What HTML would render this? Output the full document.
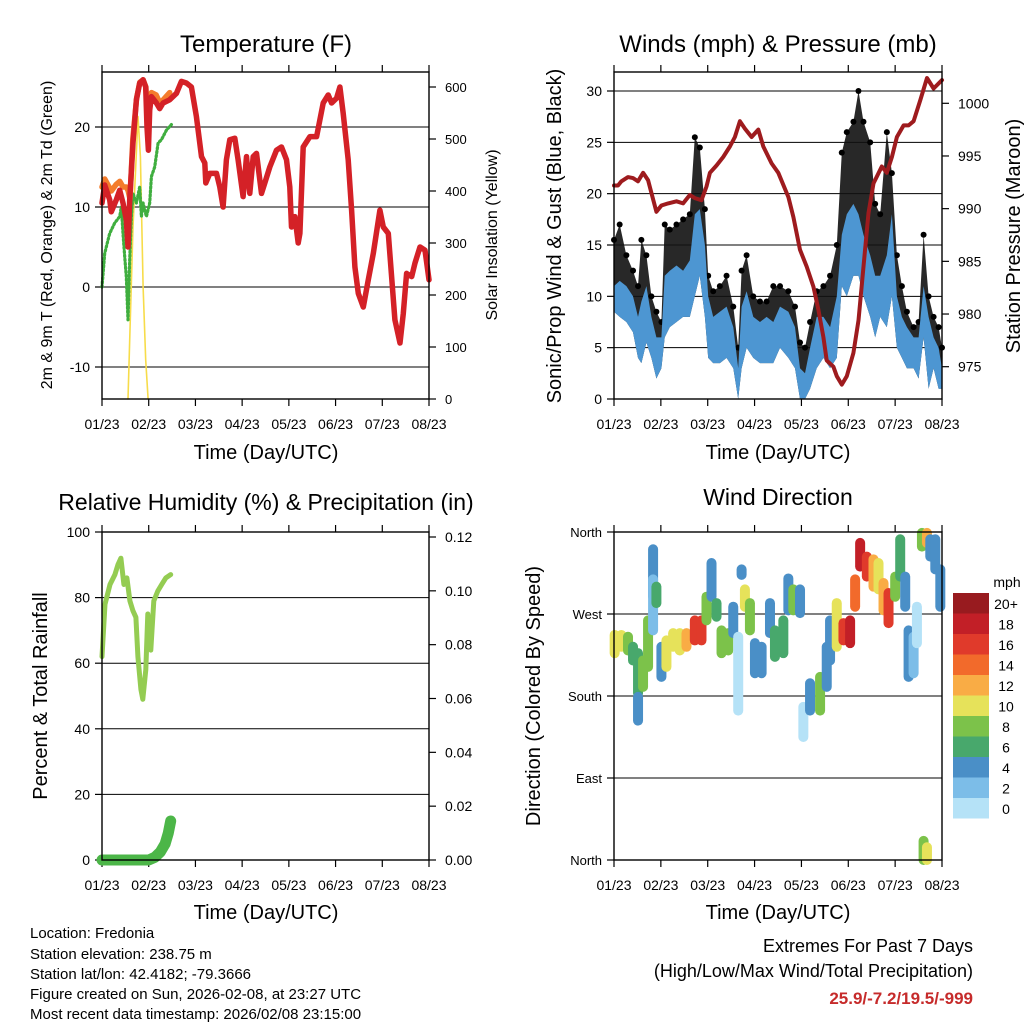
<!DOCTYPE html>
<html><head><meta charset="utf-8"><style>
html,body{margin:0;padding:0;background:#fff;}
svg{display:block;font-family:"Liberation Sans",Arial,sans-serif;}
</style></head><body>
<svg id="c" width="1024" height="1024" viewBox="0 0 1024 1024" xmlns="http://www.w3.org/2000/svg">
<rect width="1024" height="1024" fill="#fff"/>
<text x="266" y="52" font-size="24" text-anchor="middle">Temperature (F)</text>
<text x="778" y="52" font-size="24" text-anchor="middle">Winds (mph) &amp; Pressure (mb)</text>
<text x="266" y="510" font-size="23" text-anchor="middle">Relative Humidity (%) &amp; Precipitation (in)</text>
<text x="778" y="505" font-size="23" text-anchor="middle">Wind Direction</text>
<text x="266" y="459" font-size="20" text-anchor="middle">Time (Day/UTC)</text>
<text x="778" y="459" font-size="20" text-anchor="middle">Time (Day/UTC)</text>
<text x="266" y="919" font-size="20" text-anchor="middle">Time (Day/UTC)</text>
<text x="778" y="919" font-size="20" text-anchor="middle">Time (Day/UTC)</text>
<text transform="translate(52,235) rotate(-90)" font-size="16" text-anchor="middle">2m &amp; 9m T (Red, Orange) &amp; 2m Td (Green)</text>
<text transform="translate(497,235) rotate(-90)" font-size="16" text-anchor="middle">Solar Insolation (Yellow)</text>
<text transform="translate(561,236) rotate(-90)" font-size="20" text-anchor="middle">Sonic/Prop Wind &amp; Gust (Blue, Black)</text>
<text transform="translate(1020,236) rotate(-90)" font-size="20" text-anchor="middle">Station Pressure (Maroon)</text>
<text transform="translate(47,696) rotate(-90)" font-size="20" text-anchor="middle">Percent &amp; Total Rainfall</text>
<text transform="translate(540,696) rotate(-90)" font-size="20" text-anchor="middle">Direction (Colored By Speed)</text>
<g font-size="15">
<text x="30" y="938">Location: Fredonia</text>
<text x="30" y="959">Station elevation: 238.75 m</text>
<text x="30" y="979">Station lat/lon: 42.4182; -79.3666</text>
<text x="30" y="999">Figure created on Sun, 2026-02-08, at 23:27 UTC</text>
<text x="30" y="1019">Most recent data timestamp: 2026/02/08 23:15:00</text>
</g>
<g text-anchor="end">
<text x="973" y="952" font-size="18">Extremes For Past 7 Days</text>
<text x="973" y="977" font-size="18">(High/Low/Max Wind/Total Precipitation)</text>
<text x="973" y="1004" font-size="17" font-weight="bold" fill="#c62b2b">25.9/-7.2/19.5/-999</text>
</g>
</svg>
<script>
// ---------- data ----------
const dayLabels = ["01/23","02/23","03/23","04/23","05/23","06/23","07/23","08/23"];
const tempTimes = [0,.057,.164,.2,.307,.379,.45,.521,.557,.593,.664,.736,.807,.879,.936,.964,.993,1.021,1.057,1.164,1.236,1.307,1.45,1.593,1.7,1.807,1.914,2.021,2.129,2.2,2.221,2.307,2.45,2.521,2.593,2.664,2.736,2.843,2.914,3.021,3.093,3.164,3.236,3.307,3.414,3.486,3.593,3.736,3.843,3.95,4.021,4.057,4.129,4.2,4.236,4.307,4.45,4.593,4.664,4.736,4.843,4.914,5.021,5.093,5.164,5.271,5.343,5.414,5.486,5.593,5.7,5.807,5.95,6.021,6.129,6.2,6.271,6.379,6.45,6.521,6.629,6.7,6.807,6.914,7.0];
const tempRed = [10.5,12.75,10.9,9.4,10.9,12.1,10.5,8.4,5.0,10.9,18.0,23.4,25.5,25.9,25.0,20.0,17.1,22.1,23.8,23.0,22.3,23.0,23.4,24.2,25.7,25.5,25.0,21.3,16.3,15.5,13.0,14.2,14.2,12.5,10.0,15.9,18.4,18.6,15.9,11.3,16.3,11.7,16.3,16.7,11.7,13.0,15.0,17.1,17.5,15.9,12.5,7.5,8.8,5.5,6.7,17.5,18.8,18.8,20.9,23.0,24.0,23.0,23.6,25.0,21.7,15.9,9.6,2.5,-0.8,-2.5,0.9,4.2,9.6,7.5,6.7,1.3,-4.1,-7.0,-3.3,1.7,1.3,3.0,5.0,4.6,0.9];
const orangeTimes = [0,.06,.2,.3,.38,.45,.52,.56,.6,.66,.74,.81,.88,.94,.97,1.02,1.06,1.16,1.24,1.31,1.45];
const tempOrange = [12.5,13.5,12.0,12.8,13.2,12.5,12.5,12,11,18.5,23.6,25.6,25.9,25,21,22.5,24.3,24,23,23.4,24.3];
const dewTimes = [0,.057,.164,.271,.379,.414,.45,.486,.521,.557,.593,.629,.664,.736,.807,.843,.879,.95,1.021,1.057,1.129,1.2,1.271,1.379,1.486];
const dewValues = [0,4.2,6.7,8.0,8.8,10.0,6.7,3.8,1.3,-4.1,3.4,8.8,11.7,10.5,12.5,8.8,10.5,8.8,10.5,13.8,15.0,18.0,18.4,19.6,20.3];
const solarTimes = [.557,.593,.664,.771,.821,.879,.936,.986];
const solarValues = [0,113,331,543,466,216,75,0];
const tempTicks = [-10,0,10,20];
const solarTicks = [0,100,200,300,400,500,600];

const presTimes = [0,.086,.157,.299,.406,.513,.62,.727,.798,.905,1.012,1.155,1.333,1.475,1.618,1.725,1.867,1.974,2.046,2.188,2.331,2.473,2.58,2.687,2.794,2.937,3.079,3.186,3.364,3.507,3.721,3.828,3.97,4.113,4.255,4.362,4.469,4.54,4.683,4.754,4.861,4.968,5.11,5.217,5.324,5.431,5.538,5.716,5.823,5.93,6.037,6.18,6.287,6.394,6.536,6.679,6.821,7.0];
const presValues = [992.2,992.2,992.6,993.0,992.9,992.6,993.4,992.7,991.5,989.7,990.3,990.5,990.7,990.5,991.3,991.0,990.8,992.1,993.4,994.1,994.9,995.9,996.8,998.3,997.6,996.8,997.5,995.9,994.3,993.4,991.1,989.2,986.1,984.5,982.6,980.4,977.8,975.6,975.0,974.1,973.3,974.1,976.3,979.4,984.5,989.6,992.4,994.0,993.4,994.9,996.8,997.9,997.9,998.3,1000.3,1002.4,1001.4,1002.2];
const windTimes = [0,.121,.264,.406,.513,.584,.691,.798,.905,1.012,1.083,1.19,1.333,1.475,1.618,1.725,1.832,1.939,2.01,2.117,2.259,2.402,2.545,2.651,2.723,2.83,2.972,3.115,3.257,3.4,3.543,3.721,3.863,3.97,4.077,4.184,4.326,4.469,4.611,4.754,4.861,4.968,5.11,5.217,5.324,5.467,5.574,5.681,5.823,5.93,6.037,6.144,6.251,6.394,6.5,6.607,6.714,6.821,6.928,7.0];
const windLow = [8.5,8,7.5,6.5,4,3.5,5.5,4,2,3,6,7,7.5,8,8,10,12,8,4,3.5,3.5,4,3,0,3,5,4,3.5,3.5,3.5,5,4,3,0,0,1,3,4,3,4,11,10,12,12,10,8,6,8,7,10,5,4,3,3,2,6,1,3,1,1];
const windHigh = [11,11.5,11,10,8,9.5,11,8,6,6,12,12.5,13,12.5,13.5,18,18.5,15,10,8,8.5,9,7,3,9,10.5,8,7.5,8,7.5,9,8.5,7,3,2.5,5,8,8,7,10,16,18,19,18,16,14,12,12,14,18,10,8,7,6,6,11,8,6,5,3];
const gustHigh = [15.5,17,14,12.5,11,15.5,14,10,8.5,7.5,17,16.5,17,17.5,18,25.5,24.5,18.5,12,10.5,11,12,9,5,12.5,14,10,9.5,9.5,11,11,10.5,9,5.5,5,7.5,10.5,11,12,15,24,26,27,30,27,25,19,18,26,22,14,11,8.5,7,7.5,16,10,8,7,5];
const windTicks = [0,5,10,15,20,25,30];
const presTicks = [975,980,985,990,995,1000];

const rhTimes = [0,.064,.171,.277,.341,.405,.469,.533,.597,.661,.725,.768,.832,.874,.938,.981,1.045,1.109,1.194,1.279,1.365,1.471];
const rhValues = [62,78,84,87,90,92,84,86,79,76,74,62,52,49,58,75,64,79,82,84,86,87];
const precipTimes = [0,0.5,1.0,1.13,1.25,1.35,1.42,1.47];
const precipValues = [0,0,0,0.001,0.003,0.006,0.01,0.0145];
const rhTicks = [0,20,40,60,80,100];
const precipTicks = ["0.00","0.02","0.04","0.06","0.08","0.10","0.12"];

const dirTimes = [.014,.157,.299,.406,.513,.513,.62,.727,.834,.834,.905,1.012,1.119,1.262,1.404,1.547,1.725,1.867,1.974,2.081,2.188,2.295,2.438,2.545,2.651,2.723,2.794,2.901,3.008,3.15,3.329,3.435,3.614,3.721,3.827,3.97,4.041,4.184,4.398,4.54,4.611,4.754,4.897,5.039,5.146,5.253,5.396,5.538,5.645,5.752,5.859,6.001,6.108,6.215,6.287,6.394,6.465,6.572,6.679,6.75,6.857,6.964,6.607,6.679];
const dirHigh = [247,247,245,234,227,179,219,263,341,308,300,234,241,249,249,249,263,263,289,326,282,252,249,278,245,319,297,282,238,234,282,252,263,309,297,297,168,194,201,234,263,282,260,263,308,348,333,330,326,304,293,311,352,311,252,245,278,359,359,352,352,319,21,14];
const dirLow = [227,234,230,219,183,153,190,212,289,252,282,201,212,234,230,234,241,241,263,289,267,227,230,249,164,313,278,252,205,205,249,223,227,274,274,271,135,164,164,190,219,234,241,238,278,322,311,300,297,274,260,289,311,278,201,205,238,344,348,333,319,278,0,0];
const dirSpeed = [10,10,9,7,6,4,8,8,4,3,6,4,10,10,11,12,17,17,8,4,6,8,8,5,1,4,10,8,4,5,4,6,6,4,8,4,1,4,8,4,4,10,17,18,14,18,17,12,10,12,17,8,6,4,4,3,1,8,12,4,4,4,8,10];
const dirTickLabels = ["North","East","South","West","North"];
const speedBinLabels = ["0","2","4","6","8","10","12","14","16","18","20+"];
const speedColors = ["#b5e2f7","#7cbde8","#4a8fc7","#48a86c","#7cc24a","#e6e25a","#f9ac45","#f26a2b","#e03a2b","#c21f27","#981b1f"];

// ---------- helpers ----------
const NS = "http://www.w3.org/2000/svg";
const svg = document.getElementById("c");
function el(tag, parent) { const e = document.createElementNS(NS, tag); (parent || svg).appendChild(e); return e; }
function axisX(p) { return t => p.x0 + t * (p.x1 - p.x0) / 7; }
function lin(d0, d1, r0, r1) { return v => r0 + (v - d0) * (r1 - r0) / (d1 - d0); }

const P1 = {x0:102, x1:429, y0:72, y1:399};
const P2 = {x0:614, x1:942, y0:72, y1:399};
const P3 = {x0:102, x1:429, y0:532, y1:860};
const P4 = {x0:614, x1:942, y0:532, y1:860};

function frame(p, name) {
  const g = el("g");
  
  
  const xs = axisX(p);
  for (let i = 0; i < 8; i++) {
    const x = xs(i);
    const t1 = el("line", g); t1.setAttribute("x1", x); t1.setAttribute("x2", x); t1.setAttribute("y1", p.y1); t1.setAttribute("y2", p.y1 + 7); t1.setAttribute("stroke", "#000"); t1.setAttribute("stroke-width", "1.2");
    const t2 = el("line", g); t2.setAttribute("x1", x); t2.setAttribute("x2", x); t2.setAttribute("y1", p.y0); t2.setAttribute("y2", p.y0 - 7); t2.setAttribute("stroke", "#000"); t2.setAttribute("stroke-width", "1.2");
    const lb = el("text", g);
    
    
    lb.setAttribute("x", x); lb.setAttribute("y", p.y1 + 30); lb.setAttribute("font-size", "14"); lb.setAttribute("text-anchor", "middle");
    lb.textContent = dayLabels[i];
  }
  return g;
}
function box(p, name) {
  const r = el("rect");
  
  
  r.setAttribute("x", p.x0); r.setAttribute("y", p.y0); r.setAttribute("width", p.x1 - p.x0); r.setAttribute("height", p.y1 - p.y0);
  r.setAttribute("fill", "none"); r.setAttribute("stroke", "#000"); r.setAttribute("stroke-width", "1.4");
}
function yTicks(p, vals, ys, labels, side, grid, fs) {
  vals.forEach((v, i) => {
    const y = ys(v);
    if (grid && y > p.y0 + 1 && y < p.y1 - 1) {
      const gl = el("line");  
      gl.setAttribute("x1", p.x0); gl.setAttribute("x2", p.x1); gl.setAttribute("y1", y); gl.setAttribute("y2", y); gl.setAttribute("stroke", "#000"); gl.setAttribute("stroke-width", "1");
    }
    const tk = el("line");
    const xe = side === "left" ? p.x0 : p.x1;
    const dir = side === "left" ? -1 : 1;
    tk.setAttribute("x1", xe); tk.setAttribute("x2", xe + dir * 7); tk.setAttribute("y1", y); tk.setAttribute("y2", y); tk.setAttribute("stroke", "#000"); tk.setAttribute("stroke-width", "1.2");
    const t = el("text");
    
    
    t.setAttribute("x", side === "left" ? p.x0 - 12 : p.x1 + 16);
    t.setAttribute("y", y + 5); t.setAttribute("font-size", fs || 14);
    t.setAttribute("text-anchor", side === "left" ? "end" : "start");
    t.textContent = labels[i];
  });
}
function polyline(xs, ys, ts, vs, stroke, w, name, extra) {
  const pl = el("polyline");
  
  
  pl.setAttribute("points", ts.map((t, i) => xs(t).toFixed(1) + "," + ys(vs[i]).toFixed(1)).join(" "));
  pl.setAttribute("fill", "none"); pl.setAttribute("stroke", stroke); pl.setAttribute("stroke-width", w);
  pl.setAttribute("stroke-linejoin", "round"); pl.setAttribute("stroke-linecap", "round");
  if (extra) pl.setAttribute("stroke-dasharray", extra);
  return pl;
}

// ---------- Panel 1: temperature ----------
{
  const xs = axisX(P1);
  const yT = lin(0, 10, 287, 207);
  const yS = lin(0, 600, 399, 87);
  frame(P1, "temperature");
  yTicks(P1, tempTicks, yT, tempTicks.map(String), "left", true);
  yTicks(P1, solarTicks, yS, solarTicks.map(String), "right", false, 13);
  polyline(xs, yS, solarTimes, solarValues, "#f7dc4a", 1.6, "solar-line");
  polyline(xs, yT, dewTimes, dewValues, "#3fae3f", 3.2, "dewpoint-line", "1.5 2.5");
  polyline(xs, yT, orangeTimes, tempOrange, "#f47c2c", 5.5, "temp-9m-line");
  polyline(xs, yT, tempTimes, tempRed, "#d42127", 5.5, "temp-2m-line");
  box(P1, "temperature");
}
// ---------- Panel 2: winds ----------
{
  const xs = axisX(P2);
  const yW = lin(0, 30, 399, 91);
  const yP = lin(975, 1000, 366.7, 103.3);
  frame(P2, "winds");
  yTicks(P2, windTicks, yW, windTicks.map(String), "left", true);
  yTicks(P2, presTicks, yP, presTicks.map(String), "right", false);
  const gust = el("polygon");
  
  
  const gp = windTimes.map((t, i) => xs(t).toFixed(1) + "," + yW(gustHigh[i]).toFixed(1))
    .concat(windTimes.map((t, i) => xs(t).toFixed(1) + "," + yW(windLow[i]).toFixed(1)).reverse());
  gust.setAttribute("points", gp.join(" ")); gust.setAttribute("fill", "#111"); gust.setAttribute("fill-opacity", "0.9");
  windTimes.forEach((t, i) => {
    const c = el("circle");
    
    
    c.setAttribute("cx", xs(t)); c.setAttribute("cy", yW(gustHigh[i])); c.setAttribute("r", 3); c.setAttribute("fill", "#000");
  });
  const band = el("polygon");
  
  
  const bp = windTimes.map((t, i) => xs(t).toFixed(1) + "," + yW(windHigh[i]).toFixed(1))
    .concat(windTimes.map((t, i) => xs(t).toFixed(1) + "," + yW(windLow[i]).toFixed(1)).reverse());
  band.setAttribute("points", bp.join(" ")); band.setAttribute("fill", "#4d96d2");
  polyline(xs, yP, presTimes, presValues, "#9e1b1e", 4, "pressure-line");
  box(P2, "winds");
}
// ---------- Panel 3: humidity ----------
{
  const xs = axisX(P3);
  const yR = lin(0, 100, 860, 532);
  const yPr = lin(0, 0.12, 860, 537);
  frame(P3, "humidity");
  yTicks(P3, rhTicks, yR, rhTicks.map(String), "left", true);
  yTicks(P3, precipTicks.map(Number), yPr, precipTicks, "right", false);
  polyline(xs, yR, rhTimes, rhValues, "#94cc52", 5, "humidity-line");
  polyline(xs, yPr, precipTimes, precipValues, "#4cb648", 11, "precip-line");
  box(P3, "humidity");
}
// ---------- Panel 4: wind direction ----------
{
  const xs = axisX(P4);
  const yD = lin(0, 360, 860, 532);
  frame(P4, "wind-direction");
  yTicks(P4, [0, 90, 180, 270, 360], yD, dirTickLabels, "left", true, 13);
  dirTimes.forEach((t, i) => {
    const bin = Math.min(10, Math.floor(dirSpeed[i] / 2));
    const ln = el("line");
    
    
    ln.setAttribute("x1", xs(t)); ln.setAttribute("x2", xs(t));
    ln.setAttribute("y1", yD(dirHigh[i])); ln.setAttribute("y2", yD(dirLow[i]));
    ln.setAttribute("stroke", speedColors[bin]); ln.setAttribute("stroke-width", 10); ln.setAttribute("stroke-linecap", "round");
  });
  box(P4, "wind-direction");
  const mph = el("text");
  
  
  mph.setAttribute("x", 1007); mph.setAttribute("y", 587); mph.setAttribute("font-size", 14); mph.setAttribute("text-anchor", "middle");
  mph.textContent = "mph";
  speedColors.forEach((c, i) => {
    const k = 10 - i;
    const y = 593 + k * 20.5;
    const r = el("rect");
    
    
    r.setAttribute("x", 953); r.setAttribute("y", y); r.setAttribute("width", 36); r.setAttribute("height", 20.5); r.setAttribute("fill", c);
    const t = el("text");
    
    
    t.setAttribute("x", 1006); t.setAttribute("y", y + 16); t.setAttribute("font-size", 14); t.setAttribute("text-anchor", "middle");
    t.textContent = speedBinLabels[i];
  });
}
</script>
</body></html>
